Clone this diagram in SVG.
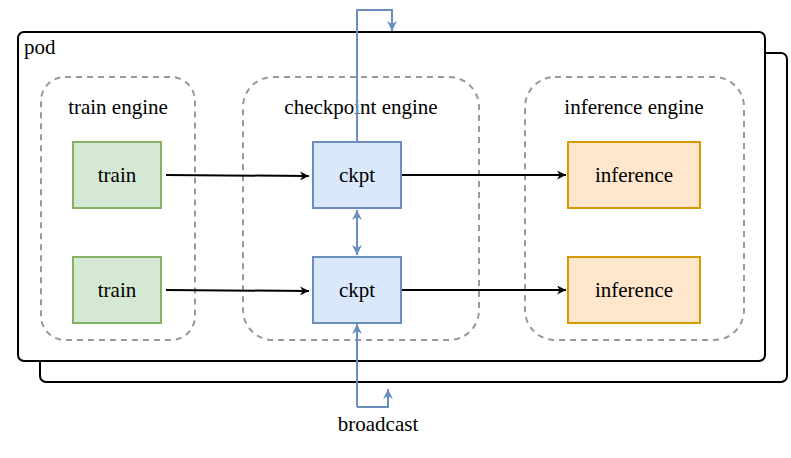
<svg xmlns="http://www.w3.org/2000/svg" width="791" height="458" viewBox="0 0 791 458">
<style>
.t{font-size:21px;fill:#000}
.pod{fill:#fff;stroke:#000;stroke-width:2}
.grp{fill:none;stroke:#999;stroke-width:2;stroke-dasharray:6 5}
.tr{fill:#d5e8d4;stroke:#82b366;stroke-width:2}
.ck{fill:#dae8fc;stroke:#6c8ebf;stroke-width:2}
.inf{fill:#ffe6cc;stroke:#d79b00;stroke-width:2}
.k{stroke:#000;stroke-width:2;fill:none}
.b{stroke:#6c8ebf;stroke-width:2;fill:none}
</style>
<defs>
<marker id="ak" viewBox="0 0 10 10" refX="10" refY="5" markerWidth="9" markerHeight="9" orient="auto-start-reverse" markerUnits="userSpaceOnUse"><path d="M0,0L10,5L0,10L3,5z" fill="#000"/></marker>
<marker id="ab" viewBox="0 0 10 10" refX="10" refY="5" markerWidth="10" markerHeight="10" orient="auto-start-reverse" markerUnits="userSpaceOnUse"><path d="M0,0L10,5L0,10L3,5z" fill="#6c8ebf"/></marker>
</defs>
<g font-family="Liberation Serif, DejaVu Serif, serif">
<g id="pod">
<rect class="pod" x="40" y="53" width="747" height="329" rx="6"/>
<rect class="pod" x="18" y="32" width="747" height="329" rx="6"/>
<text class="t" x="24" y="54">pod</text>
</g>
<g id="train-engine"><rect class="grp" x="41" y="77" width="154" height="263" rx="24"/><text class="t" x="118" y="114" text-anchor="middle">train engine</text></g>
<g id="checkpoint-engine"><rect class="grp" x="243" y="77" width="236" height="263" rx="30"/><text class="t" x="361" y="114" text-anchor="middle">checkpoint engine</text></g>
<g id="inference-engine"><rect class="grp" x="525" y="77" width="219" height="263" rx="30"/><text class="t" x="634" y="114" text-anchor="middle">inference engine</text></g>
<g id="train1"><rect class="tr" x="73" y="142" width="88" height="66"/><text class="t" x="117" y="182" text-anchor="middle">train</text></g>
<g id="train2"><rect class="tr" x="73" y="257" width="88" height="66"/><text class="t" x="117" y="297" text-anchor="middle">train</text></g>
<g id="ckpt1"><rect class="ck" x="313" y="142" width="88" height="66"/><text class="t" x="357" y="182" text-anchor="middle">ckpt</text></g>
<g id="ckpt2"><rect class="ck" x="313" y="257" width="88" height="66"/><text class="t" x="357" y="297" text-anchor="middle">ckpt</text></g>
<g id="inf1"><rect class="inf" x="568" y="142" width="132" height="66"/><text class="t" x="634" y="182" text-anchor="middle">inference</text></g>
<g id="inf2"><rect class="inf" x="568" y="257" width="132" height="66"/><text class="t" x="634" y="297" text-anchor="middle">inference</text></g>
<g id="broadcast"><text class="t" x="378" y="431" text-anchor="middle">broadcast</text></g>
</g>
<g id="connectors">
<path class="k" d="M166,175 L309,176" marker-end="url(#ak)"/>
<path class="k" d="M166,290 L309,291" marker-end="url(#ak)"/>
<path class="k" d="M402,175 L566,175" marker-end="url(#ak)"/>
<path class="k" d="M402,290 L566,290" marker-end="url(#ak)"/>
<path class="b" d="M357,210 L357,255" marker-start="url(#ab)" marker-end="url(#ab)"/>
<path class="b" d="M357,142 L357,10 L392,10 L392,31" marker-end="url(#ab)"/>
<path class="b" d="M357,407 L357,324" marker-end="url(#ab)"/>
<path class="b" d="M357,407 L388,407 L388,389" marker-end="url(#ab)"/>
</g>
</svg>
